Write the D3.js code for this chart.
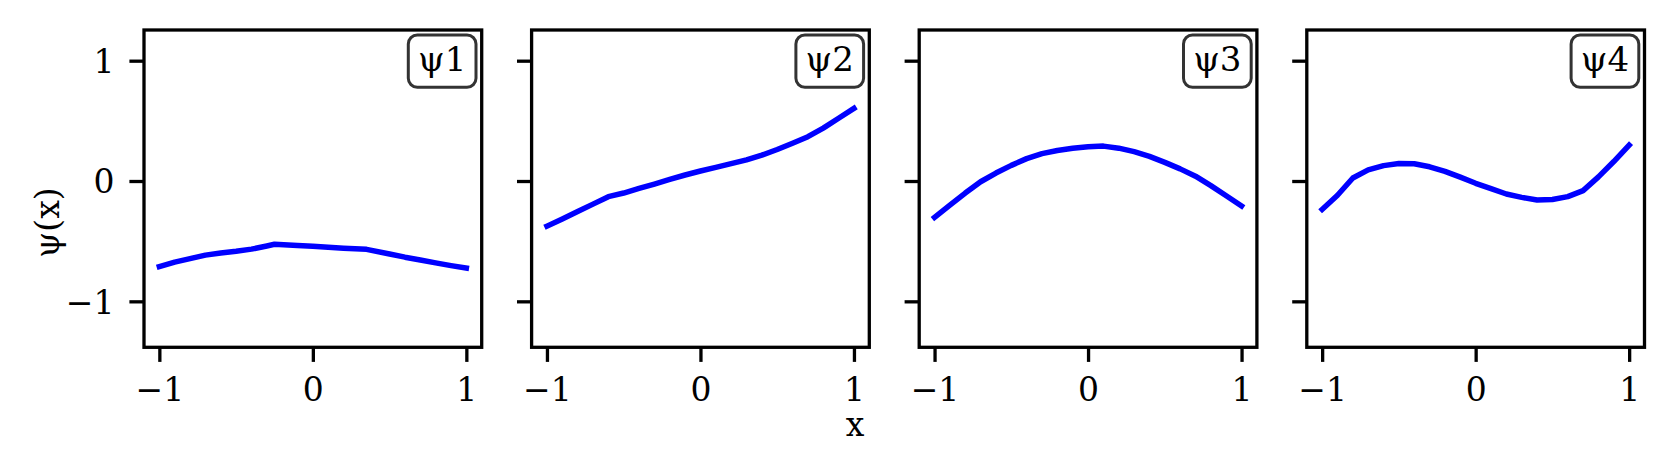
<!DOCTYPE html>
<html>
<head>
<meta charset="utf-8">
<script src="https://cdn.jsdelivr.net/npm/d3@7"></script>
<style>
  html, body { margin: 0; padding: 0; background: #fff; }
  svg { display: block; font-family: 'DejaVu Serif', serif; }
</style>
</head>
<body>
<div id="chart"></div>
<script>
// values, one pair of arrays per panel
const psi1X= [-1, -0.9, -0.8, -0.7, -0.6, -0.5, -0.4, -0.3, -0.25, -0.1, 0, 0.1, 0.2, 0.35, 0.5, 0.6, 0.7, 0.8, 0.9, 1];
const psi1Y= [-0.712, -0.674, -0.645, -0.616, -0.598, -0.584, -0.566, -0.540, -0.526, -0.535, -0.542, -0.550, -0.558, -0.568, -0.607, -0.633, -0.656, -0.680, -0.703, -0.724];

const gridX= [-1, -0.9, -0.8, -0.7, -0.6, -0.5, -0.4, -0.3, -0.2, -0.1, 0, 0.1, 0.2, 0.3, 0.4, 0.5, 0.6, 0.7, 0.8, 0.9, 1];
const psi2Y= [-0.375, -0.315, -0.254, -0.192, -0.130, -0.100, -0.062, -0.025, 0.013, 0.050, 0.083, 0.113, 0.144, 0.175, 0.215, 0.262, 0.314, 0.368, 0.440, 0.522, 0.604];
const psi3Y= [-0.302, -0.200, -0.100, -0.006, 0.066, 0.130, 0.186, 0.228, 0.254, 0.272, 0.285, 0.290, 0.273, 0.244, 0.205, 0.155, 0.101, 0.040, -0.038, -0.122, -0.208];
const psi4Y= [-0.236, -0.118, 0.025, 0.092, 0.128, 0.146, 0.143, 0.118, 0.080, 0.032, -0.019, -0.064, -0.108, -0.136, -0.158, -0.154, -0.130, -0.080, 0.034, 0.162, 0.299];

const panelNames= ['ψ1', 'ψ2', 'ψ3', 'ψ4'];
const panelX= [psi1X, gridX, gridX, gridX];
const panelY= [psi1Y, psi2Y, psi3Y, psi4Y];

const xTicks= [-1, 0, 1];
const yTicks= [-1, 0, 1];
const xDomain= [-1.1, 1.1];
const yDomain= [-1.382, 1.255];

const W= 1673;
const H= 473;
const LEFT= [144, 531.6, 919.2, 1306.8];
const PW= 337.7;
const TOP= 30;
const BOTTOM= 347.3;
const TICK_LEN= 14.6;
const SPINE= 3.3;
const FONT= 33;

const fmt= v => (v < 0 ? '\u2212' : '') + Math.abs(v);

const svg= d3.select('#chart')
  .append('svg')
  .attr('width', W)
  .attr('height', H);

const y= d3.scaleLinear().domain(yDomain).range([BOTTOM, TOP]);

panelNames.forEach((name, i) => {
  const x= d3.scaleLinear().domain(xDomain).range([LEFT[i], LEFT[i]+PW]);
  const g= svg.append('g').attr('class', 'panel');

  // curve
  const pts= panelX[i].map((v, k) => [v, panelY[i][k]]);
  g.append('path')
    .datum(pts)
    .attr('fill', 'none')
    .attr('stroke', '#0000ff')
    .attr('stroke-width', 5.5)
    .attr('stroke-linecap', 'square')
    .attr('stroke-linejoin', 'round')
    .attr('d', d3.line().x(d => x(d[0])).y(d => y(d[1])));

  // x axis
  const gx= g.append('g')
    .attr('transform', `translate(0,${BOTTOM})`)
    .call(d3.axisBottom(x).tickValues(xTicks).tickFormat(fmt)
      .tickSize(TICK_LEN).tickPadding(15.5));

  // y axis, labels only on the first panel
  const gy= g.append('g')
    .attr('transform', `translate(${LEFT[i]},0)`)
    .call(d3.axisLeft(y).tickValues(yTicks).tickFormat(i === 0 ? fmt : () => '')
      .tickSize(TICK_LEN).tickPadding(15));

  [gx, gy].forEach(ax => {
    ax.select('.domain').remove();
    ax.selectAll('.tick line').attr('stroke', '#000').attr('stroke-width', SPINE);
    ax.selectAll('.tick text')
      .attr('fill', '#000')
      .style('font-family', "'DejaVu Serif', serif")
      .style('font-size', FONT+'px');
  });
  gy.selectAll('.tick text').attr('dy', '0.36em');

  // frame
  g.append('rect')
    .attr('x', LEFT[i]).attr('y', TOP)
    .attr('width', PW).attr('height', BOTTOM-TOP)
    .attr('fill', 'none')
    .attr('stroke', '#000')
    .attr('stroke-width', SPINE);

  // label box in the upper right corner
  const bw= 67.7;
  const bh= 52.3;
  const bx= LEFT[i]+PW-5.7-bw;
  const by= TOP+5;
  g.append('rect')
    .attr('x', bx).attr('y', by)
    .attr('width', bw).attr('height', bh)
    .attr('rx', 9).attr('ry', 9)
    .attr('fill', '#fff')
    .attr('stroke', '#333')
    .attr('stroke-width', 3);
  g.append('text')
    .attr('x', bx+bw/2)
    .attr('y', 71)
    .attr('text-anchor', 'middle')
    .attr('font-size', 34)
    .attr('fill', '#000')
    .text(name);
});

// shared axis labels
svg.append('text')
  .attr('x', 855)
  .attr('y', 436)
  .attr('text-anchor', 'middle')
  .attr('font-size', FONT)
  .attr('fill', '#000')
  .text('x');

svg.append('text')
  .attr('transform', 'translate(58.5,222.5) rotate(-90)')
  .attr('text-anchor', 'middle')
  .attr('font-size', FONT)
  .attr('fill', '#000')
  .text('ψ(x)');
</script>
</body>
</html>
